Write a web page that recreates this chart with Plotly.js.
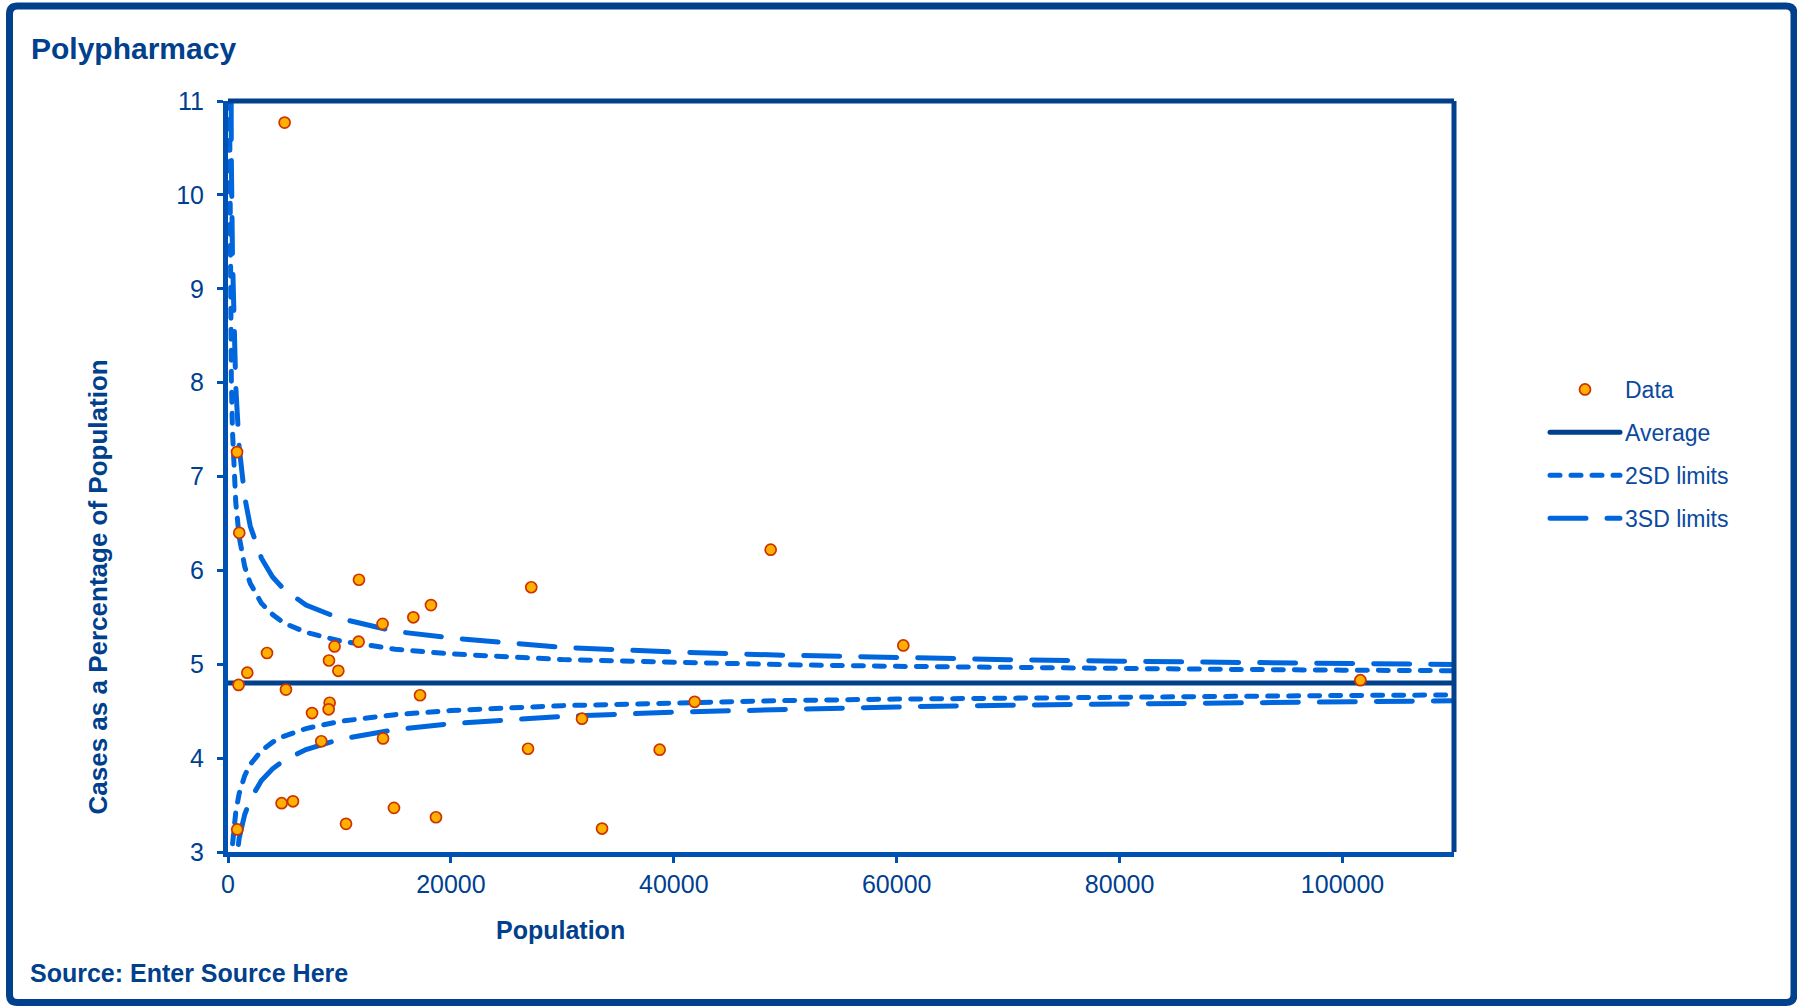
<!DOCTYPE html>
<html>
<head>
<meta charset="utf-8">
<script src="https://cdn.plot.ly/plotly-3.0.1.min.js"></script>
<style>
  html, body { margin: 0; padding: 0; background: #ffffff; }
  #chart { width: 1797px; height: 1006px; }
  #chart .scatterlayer path.js-line, #chart .legendlines path { stroke-linecap: round; }
</style>
</head>
<body>
<div id="chart"></div>
<script>
// ---- Data ----
const chartTitle = "Polypharmacy";
const xTitle = "Population";
const yTitle = "Cases as a Percentage of Population";
const sourceText = "Source: Enter Source Here";

// Practice populations and their percentages (Data)
const population = [810, 1010, 11750, 27210, 18210, 16630, 13870, 11720, 9560, 3500,
                    9060, 9900, 1730, 950, 5200, 17230, 9120, 9030, 7540, 31760,
                    13910, 8370, 26920, 38730, 4810, 5830, 14890, 18660, 10590, 33560,
                    830, 41870, 48690, 60590, 101600, 5080];
const percentage = [7.26, 6.40, 5.90, 5.82, 5.63, 5.50, 5.43, 5.24, 5.19, 5.12,
                    5.04, 4.93, 4.91, 4.78, 4.73, 4.67, 4.59, 4.52, 4.48, 4.42,
                    4.21, 4.18, 4.10, 4.09, 3.52, 3.54, 3.47, 3.37, 3.30, 3.25,
                    3.24, 4.60, 6.22, 5.20, 4.83, 10.77];

// Average line
const averagePop = [0, 110000];
const averageVal = [4.8, 4.8];

// Control limit curves
const limitPop = [100, 150, 200, 300, 400, 500, 700, 1000, 1500, 2000, 3000, 4000, 5000, 7000,
                  10000, 15000, 20000, 30000, 40000, 50000, 60000, 70000, 80000, 90000, 100000, 110000];
const upper2SD = [11.70, 9.93, 9.01, 8.03, 7.49, 7.15, 6.72, 6.36, 6.04, 5.86, 5.65, 5.53, 5.44, 5.34,
                  5.25, 5.16, 5.11, 5.05, 5.02, 4.995, 4.978, 4.964, 4.954, 4.945, 4.937, 4.931];
const lower2SD = [1.97, 2.32, 2.557, 2.87, 3.075, 3.223, 3.428, 3.622, 3.814, 3.933, 4.08, 4.17, 4.232, 4.315,
                  4.391, 4.463, 4.507, 4.559, 4.591, 4.613, 4.629, 4.641, 4.651, 4.66, 4.667, 4.673];
const upper3SD = [18.26, 14.29, 12.35, 10.38, 9.36, 8.72, 7.95, 7.32, 6.78, 6.47, 6.13, 5.93, 5.80, 5.63,
                  5.49, 5.35, 5.28, 5.18, 5.13, 5.096, 5.069, 5.049, 5.032, 5.018, 5.007, 4.997];
const lower3SD = [1.262, 1.612, 1.866, 2.22, 2.461, 2.641, 2.897, 3.146, 3.399, 3.56, 3.761, 3.886, 3.974, 4.091,
                  4.2, 4.304, 4.367, 4.444, 4.49, 4.521, 4.545, 4.564, 4.578, 4.591, 4.602, 4.611];

const xTicks = [0, 20000, 40000, 60000, 80000, 100000];
const yTicks = [3, 4, 5, 6, 7, 8, 9, 10, 11];

// ---- Styling ----
const navy = "#00408C";
const axisBlue = "#0052B2";
const limitBlue = "#0066DD";
const textBlue = "#003F8F";
const font = "'Liberation Sans', Arial, sans-serif";

const traces = [
  {
    x: averagePop, y: averageVal, mode: "lines", name: "Average",
    line: { color: navy, width: 5 }, legendgroup: "g2", legendrank: 2, hoverinfo: "skip"
  },
  {
    x: limitPop, y: upper2SD, mode: "lines", name: "2SD limits",
    line: { color: limitBlue, width: 5, dash: "10px,11px" }, legendgroup: "g3", legendrank: 3
  },
  {
    x: limitPop, y: lower2SD, mode: "lines", name: "2SD limits", showlegend: false,
    line: { color: limitBlue, width: 5, dash: "10px,11px" }, legendgroup: "g3"
  },
  {
    x: limitPop, y: upper3SD, mode: "lines", name: "3SD limits",
    line: { color: limitBlue, width: 5, dash: "36px,21px" }, legendgroup: "g4", legendrank: 4
  },
  {
    x: limitPop, y: lower3SD, mode: "lines", name: "3SD limits", showlegend: false,
    line: { color: limitBlue, width: 5, dash: "36px,21px" }, legendgroup: "g4"
  },
  {
    x: population, y: percentage, mode: "markers", name: "Data",
    marker: { color: "#FFB000", size: 11, line: { color: "#CC3300", width: 1.7 } },
    legendgroup: "g1", legendrank: 1
  }
];

// paper-coordinate helpers for the outer frame
const L = 228, R = 343, T = 101, B = 154, W = 1797, H = 1006;
const pw = W - L - R, ph = H - T - B;
const px = v => (v - L) / pw;
const py = v => (H - B - v) / ph;
const fx0 = px(9.5), fx1 = px(1794), fy0 = py(1002.5), fy1 = py(6);
const rx = 8 / pw, ry = 8 / ph;
const framePath = `M${fx0 + rx},${fy1} L${fx1 - rx},${fy1} Q${fx1},${fy1} ${fx1},${fy1 - ry} ` +
  `L${fx1},${fy0 + ry} Q${fx1},${fy0} ${fx1 - rx},${fy0} L${fx0 + rx},${fy0} ` +
  `Q${fx0},${fy0} ${fx0},${fy0 + ry} L${fx0},${fy1 - ry} Q${fx0},${fy1} ${fx0 + rx},${fy1} Z`;

const layout = {
  width: W, height: H,
  margin: { l: L, r: R, t: T, b: B, pad: 0 },
  paper_bgcolor: "#ffffff",
  plot_bgcolor: "#ffffff",
  font: { family: font, color: textBlue },
  showlegend: true,
  title: {
    text: "<b>" + chartTitle + "</b>",
    font: { family: font, size: 30, color: navy },
    xref: "container", yref: "container",
    x: 31 / W, xanchor: "left",
    y: 1 - 48 / H, yanchor: "middle"
  },
  xaxis: {
    range: [0, 110000],
    tickvals: xTicks, ticktext: xTicks.map(String),
    showgrid: false, zeroline: false,
    showline: true, linecolor: axisBlue, linewidth: 5,
    ticks: "outside", ticklen: 6, tickwidth: 3, tickcolor: axisBlue,
    tickfont: { family: font, size: 25, color: textBlue },
    ticklabelstandoff: 0,
    fixedrange: true
  },
  yaxis: {
    range: [3, 11],
    tickvals: yTicks, ticktext: yTicks.map(String),
    showgrid: false, zeroline: false,
    showline: true, linecolor: axisBlue, linewidth: 5,
    ticks: "outside", ticklen: 6, tickwidth: 3, tickcolor: axisBlue,
    tickfont: { family: font, size: 25, color: textBlue },
    ticklabelstandoff: 8,
    fixedrange: true
  },
  legend: {
    x: px(1545), xanchor: "left",
    y: py(368), yanchor: "top",
    font: { family: font, size: 23, color: "#0A4A9E" },
    itemwidth: 70,
    tracegroupgap: 10,
    bgcolor: "rgba(0,0,0,0)",
    borderwidth: 0
  },
  annotations: [
    {
      text: "<b>" + yTitle + "</b>", textangle: -90,
      xref: "paper", yref: "paper", x: px(97.5), y: py(587),
      xanchor: "center", yanchor: "middle", showarrow: false,
      font: { family: font, size: 26, color: navy }
    },
    {
      text: "<b>" + xTitle + "</b>",
      xref: "paper", yref: "paper", x: px(560), y: py(930.5),
      xanchor: "center", yanchor: "middle", showarrow: false,
      font: { family: font, size: 25, color: navy }
    },
    {
      text: "<b>" + sourceText + "</b>",
      xref: "paper", yref: "paper", x: px(28), y: py(973),
      xanchor: "left", yanchor: "middle", showarrow: false,
      font: { family: font, size: 25, color: navy }
    }
  ],
  shapes: [
    { type: "line", xref: "paper", yref: "paper", x0: 0, x1: 1, y0: 1, y1: 1,
      line: { color: navy, width: 5 }, layer: "above" },
    { type: "line", xref: "paper", yref: "paper", x0: 1, x1: 1, y0: 0, y1: 1,
      line: { color: navy, width: 5 }, layer: "above" },
    { type: "path", xref: "paper", yref: "paper", path: framePath,
      line: { color: navy, width: 7 }, fillcolor: "rgba(0,0,0,0)", layer: "above" }
  ]
};

Plotly.newPlot("chart", traces, layout, { displayModeBar: false, staticPlot: true });
</script>
</body>
</html>
